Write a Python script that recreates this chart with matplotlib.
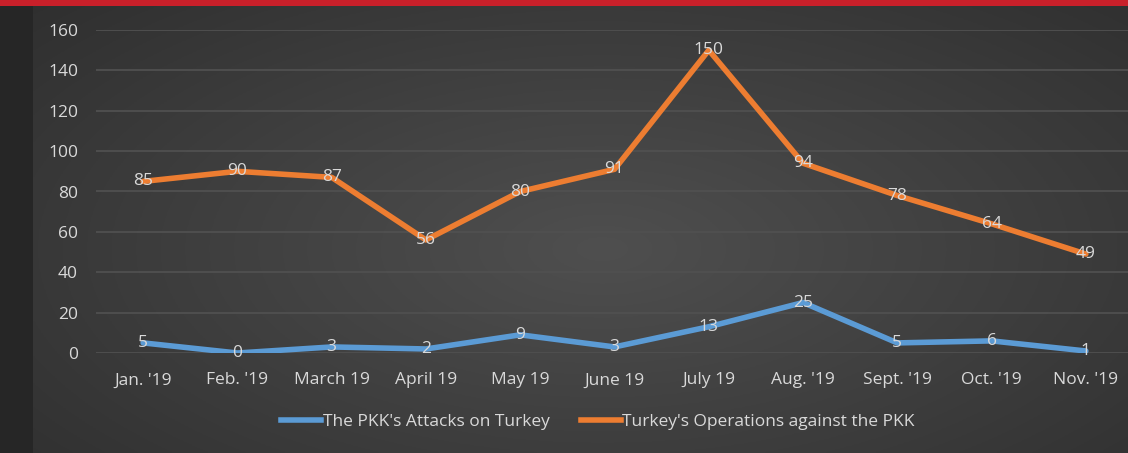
import numpy as np
import matplotlib.pyplot as plt
from matplotlib.lines import Line2D

months = ["Jan. '19", "Feb. '19", "March 19", "April 19", "May 19", "June 19",
          "July 19", "Aug. '19", "Sept. '19", "Oct. '19", "Nov. '19"]
pkk_attacks = [5, 0, 3, 2, 9, 3, 13, 25, 5, 6, 1]
turkey_ops = [85, 90, 87, 56, 80, 91, 150, 94, 78, 64, 49]
y_ticks = [0, 20, 40, 60, 80, 100, 120, 140, 160]

plt.rcParams['font.family'] = ['Open Sans', 'DejaVu Sans']
txt = '#d9d9d9'
blue = '#5b9bd5'
orange = '#ed7d31'
fs = 12.5

W, H = 1128, 453
fig = plt.figure(figsize=(W / 100, H / 100), dpi=100)
fig.patch.set_facecolor('#262626')

# background: dark radial gradient
bg = fig.add_axes([33 / W, 0, 1 - 33 / W, 1])
yy, xx = np.mgrid[0:1:200j, 0:1:400j]
r = np.sqrt(((xx - 0.52) / 0.8) ** 2 + ((yy - 0.45) / 0.9) ** 2)
shade = np.clip(0.31 - 0.14 * r, 0.16, 0.31)
bg.imshow(np.dstack([shade] * 3), aspect='auto', extent=[0, 1, 0, 1], origin='lower')
bg.axis('off')

# red bar on top
bar = fig.add_axes([0, 1 - 6 / H, 1, 6 / H])
bar.set_facecolor('#c9202a')
bar.set_xticks([])
bar.set_yticks([])
for s in bar.spines.values():
    s.set_visible(False)

# main plot (right edge runs past the figure, as in the original crop)
y0, y160 = 353, 30
ax = fig.add_axes([96 / W, (H - y0) / H, 1037 / W, (y0 - y160) / H])
ax.patch.set_alpha(0)
x = np.arange(len(months))
ax.plot(x, pkk_attacks, color=blue, lw=4, solid_capstyle='round', zorder=3)
ax.plot(x, turkey_ops, color=orange, lw=4, solid_capstyle='round', zorder=3)
for xi, v in zip(x, pkk_attacks):
    ax.text(xi, v, str(v), ha='center', va='center', color=txt, fontsize=fs, zorder=4)
for xi, v in zip(x, turkey_ops):
    ax.text(xi, v, str(v), ha='center', va='center', color=txt, fontsize=fs, zorder=4)

ax.set_xlim(-0.5, len(months) - 0.5)
ax.set_ylim(0, 160)
ax.set_yticks(y_ticks)
ax.set_xticks(x)
ax.set_xticklabels(months)
ax.grid(axis='y', color='#505050', lw=1.3)
ax.set_axisbelow(True)
ax.tick_params(length=0, colors=txt, labelsize=fs)
ax.tick_params(axis='y', pad=13)
ax.tick_params(axis='x', pad=14)
for s in ax.spines.values():
    s.set_visible(False)

handles = [Line2D([], [], color=blue, lw=4), Line2D([], [], color=orange, lw=4)]
fig.legend(handles, ["The PKK's Attacks on Turkey", "Turkey's Operations against the PKK"],
           loc='center', bbox_to_anchor=(598 / W, 1 - 422 / H), ncol=2, frameon=False,
           fontsize=fs, labelcolor=txt, handlelength=2.3, handletextpad=0.1,
           columnspacing=1.8)

fig.savefig('out.png', dpi=100, facecolor=fig.get_facecolor())
